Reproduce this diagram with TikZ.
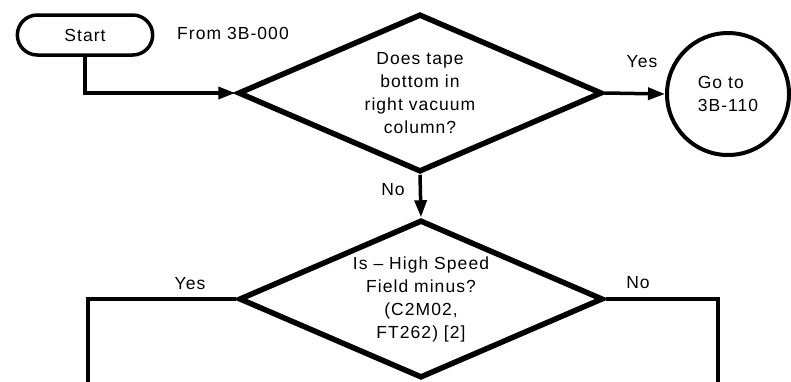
\documentclass[tikz,border=0pt]{standalone}
\usepackage{fontspec}
\setmainfont{Liberation Sans}[LetterSpace=6]
\usetikzlibrary{arrows.meta,shapes.geometric,shapes.misc}
\begin{document}
\begin{tikzpicture}[x=1pt,y=-1pt,
  font=\fontsize{17.5}{23}\selectfont,
  decision/.style={diamond, draw, line width=5.5pt, inner sep=0pt, aspect=2.3,
    minimum width=364pt, minimum height=158pt, align=center},
  term/.style={rounded rectangle, draw, line width=3.5pt, minimum width=142pt, minimum height=40pt},
  connector/.style={circle, draw, line width=4pt, minimum size=122pt, inner sep=0pt, align=left},
  flow/.style={line width=3.5pt},
  arr/.style={flow, -{Triangle[length=17pt,width=12pt]}},
  lbl/.style={inner sep=0pt}]
\useasboundingbox (0,0) rectangle (791,381);
\node[term] (start) at (85,35) {Start};
\node[lbl, anchor=west] (from) at (177,33) {From 3B-000};
\node[decision] (d1) at (420,93) {Does tape\\bottom in\\right vacuum\\column?};
\node[connector] (goto) at (728,94) {Go to\\3B-110};
\node[decision] (d2) at (421,299) {Is – High Speed\\Field minus?\\(C2M02,\\FT262) [2]};
\node[lbl] (yes1) at (642,62) {Yes};
\node[lbl] (no1) at (393,190) {No};
\node[lbl] (yes2) at (190,284) {Yes};
\node[lbl] (no2) at (638,283) {No};
\draw[arr] (start.south) |- (d1.west);
\draw[arr] (d1.east) -- (goto.west);
\draw[arr] (d1.south) -- (d2.north);
\coordinate (yend) at (88,386);
\coordinate (nend) at (718,386);
\draw[flow] (d2.west) -| (yend);
\draw[flow] (d2.east) -| (nend);
\end{tikzpicture}
\end{document}
